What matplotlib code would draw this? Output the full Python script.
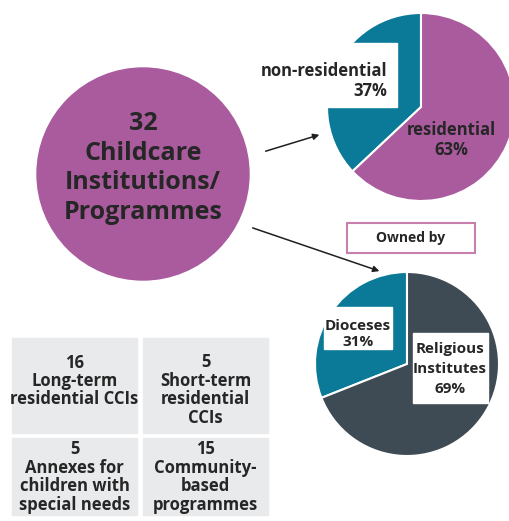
import matplotlib.pyplot as plt
from matplotlib.patches import Rectangle, Circle

plt.rcParams['font.family'] = ['Open Sans', 'DejaVu Sans']

W, H = 510, 521

total = 32
total_label = 'Childcare\nInstitutions/\nProgrammes'

type_labels = ['non-residential', 'residential']
type_share = [37, 63]

owner_labels = ['Dioceses', 'Religious\nInstitutes']
owner_share = [31, 69]

box_counts = [16, 5, 5, 15]
box_labels = ['Long-term\nresidential CCIs', 'Short-term\nresidential\nCCIs',
              'Annexes for\nchildren with\nspecial needs', 'Community-\nbased\nprogrammes']

purple = '#a95b9e'
teal = '#0a7a98'
slate = '#3e4a54'
txt = '#262626'


def Y(y):
    # picture rows from the top -> axes y from the bottom
    return H - y


fig = plt.figure(figsize=(W / 100, H / 100), dpi=100)
ax = fig.add_axes([0, 0, 1, 1])

# big circle
ax.add_patch(Circle((143, Y(174)), 106, color=purple, zorder=1))
ax.text(143, Y(168), f'{total}\n{total_label}', ha='center', va='center',
        fontsize=18, fontweight='bold', color=txt, linespacing=1.25, zorder=3)

# top pie: residential / non-residential
ax.pie(type_share, colors=[teal, purple], startangle=90, counterclock=True,
       center=(421, Y(107)), radius=94, frame=True,
       wedgeprops=dict(edgecolor='white', linewidth=1.5))
ax.add_patch(Rectangle((255, Y(107)), 142, 64, color='white', zorder=2))
ax.text(387, Y(81), f'{type_labels[0]}\n{type_share[0]}%', ha='right', va='center',
        fontsize=12, fontweight='bold', color=txt, linespacing=1.15, zorder=3)
ax.text(451, Y(140), f'{type_labels[1]}\n{type_share[1]}%', ha='center', va='center',
        fontsize=12, fontweight='bold', color=txt, linespacing=1.2, zorder=3)

# bottom pie: ownership
ax.pie(owner_share, colors=[teal, slate], startangle=90, counterclock=True,
       center=(407, Y(364)), radius=92, frame=True,
       wedgeprops=dict(edgecolor='white', linewidth=1.5))
ax.add_patch(Rectangle((347, Y(253)), 128, 30, facecolor='white',
                       edgecolor='#c97fab', linewidth=1.5, zorder=2))
ax.text(411, Y(238), 'Owned by', ha='center', va='center', fontsize=10,
        fontweight='bold', color=txt, zorder=3)
ax.add_patch(Rectangle((324, Y(349)), 68, 42, color='white', zorder=2))
ax.text(358, Y(334), f'{owner_labels[0]}\n{owner_share[0]}%', ha='center', va='center',
        fontsize=11, fontweight='bold', color=txt, linespacing=1.15, zorder=3)
ax.add_patch(Rectangle((413, Y(403)), 75, 70, color='white', zorder=2))
ax.text(450, Y(369), f'{owner_labels[1]}\n{owner_share[1]}%', ha='center', va='center',
        fontsize=11, fontweight='bold', color=txt, linespacing=1.55, zorder=3)

# arrows
arrow = dict(arrowstyle='-|>', color='#1f1f1f', lw=1.1, mutation_scale=9)
ax.annotate('', xy=(322, Y(134)), xytext=(263, Y(152)), arrowprops=arrow, zorder=4)
ax.annotate('', xy=(382, Y(272)), xytext=(250, Y(227)), arrowprops=arrow, zorder=4)

# grey boxes: x0, y0, w, h, text centre
cells = [(12, 338, 125, 95, 381), (143, 338, 125, 95, 390),
         (12, 438, 125, 77, 477), (143, 438, 125, 77, 477)]
for (x0, y0, w, h, ty), n, lab in zip(cells, box_counts, box_labels):
    ax.add_patch(Rectangle((x0, Y(y0 + h)), w, h, color='#e8eaec', zorder=1))
    ax.text(x0 + w / 2, Y(ty), f'{n}\n{lab}', ha='center', va='center', fontsize=12,
            fontweight='bold', color=txt, linespacing=1.03, zorder=3)

ax.set_xlim(0, W)
ax.set_ylim(0, H)
ax.set_aspect('equal')
ax.axis('off')

fig.savefig('out.png', dpi=100)
